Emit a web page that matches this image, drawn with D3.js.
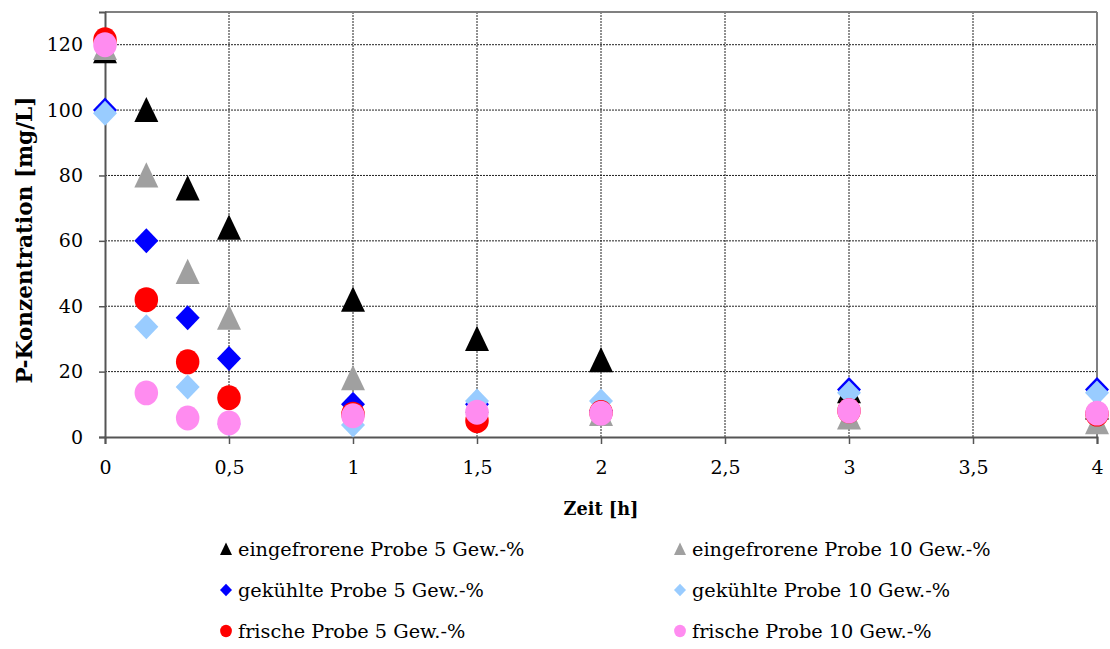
<!DOCTYPE html>
<html>
<head>
<meta charset="utf-8">
<script src="https://cdn.jsdelivr.net/npm/d3@7"></script>
<style>
  html, body { margin: 0; padding: 0; background: #fff; }
  svg { display: block; }
  text { font-family: "DejaVu Serif", serif; fill: #000; }
</style>
</head>
<body>
<svg id="chart" width="1110" height="649"></svg>
<script>
// Sampling times in hours
const times = [0, 1/6, 1/3, 0.5, 1, 1.5, 2, 3, 4];

// P concentration in mg/L per sample type
const frozen5   = [118, 100, 76, 64, 42, 30, 23.5, 14, 9];
const frozen10  = [119, 80, 50.5, 36.5, 18, 11, 7, 6, 4.5];
const cooled5   = [100, 60, 36.5, 24, 10, 10, 8, 14.5, 14.5];
const cooled10  = [99, 33.7, 15.3, 4, 3.7, 11, 11, 13.5, 13.5];
const fresh5    = [121.5, 42, 23, 12, 7, 5, 7.5, 8, 7];
const fresh10   = [120, 13.5, 5.8, 4.3, 6.5, 7.6, 7.3, 8, 7.3];

const xTicks = [0, 0.5, 1, 1.5, 2, 2.5, 3, 3.5, 4];
const yTicks = [0, 20, 40, 60, 80, 100, 120];

const seriesNames = [
  "eingefrorene Probe 5 Gew.-%",
  "eingefrorene Probe 10 Gew.-%",
  "gekühlte Probe 5 Gew.-%",
  "gekühlte Probe 10 Gew.-%",
  "frische Probe 5 Gew.-%",
  "frische Probe 10 Gew.-%"
];

const series = [
  { name: seriesNames[0], values: frozen5,  shape: "triangle", color: "#000000" },
  { name: seriesNames[1], values: frozen10, shape: "triangle", color: "#a0a0a0" },
  { name: seriesNames[2], values: cooled5,  shape: "diamond",  color: "#0000ff" },
  { name: seriesNames[3], values: cooled10, shape: "diamond",  color: "#99ccff" },
  { name: seriesNames[4], values: fresh5,   shape: "circle",   color: "#ff0000" },
  { name: seriesNames[5], values: fresh10,  shape: "circle",   color: "#ff8cf0" }
];

const svg = d3.select("#chart");
const margin = { left: 105, top: 12, right: 1097, bottom: 437 };

const x = d3.scaleLinear().domain([0, 4]).range([margin.left, margin.right]);
const y = d3.scaleLinear().domain([0, 130]).range([margin.bottom, margin.top]);

// Grid lines
const grid = svg.append("g");
grid.selectAll("line.h").data(yTicks.filter(d => d > 0)).join("line")
  .attr("x1", margin.left).attr("x2", margin.right)
  .attr("y1", d => y(d)).attr("y2", d => y(d))
  .attr("stroke", "#222").attr("stroke-width", 1).attr("stroke-dasharray", "2,1");
grid.selectAll("line.v").data(xTicks.filter(d => d > 0 && d < 4)).join("line")
  .attr("x1", d => x(d)).attr("x2", d => x(d))
  .attr("y1", margin.top).attr("y2", margin.bottom)
  .attr("stroke", "#222").attr("stroke-width", 1).attr("stroke-dasharray", "2,1");

// Plot frame (top and right)
svg.append("line").attr("x1", margin.left).attr("x2", margin.right)
  .attr("y1", margin.top).attr("y2", margin.top)
  .attr("stroke", "#808080").attr("stroke-width", 2);
svg.append("line").attr("x1", margin.right).attr("x2", margin.right)
  .attr("y1", margin.top).attr("y2", margin.bottom)
  .attr("stroke", "#808080").attr("stroke-width", 2);

// Axes
const fmt = d3.formatLocale({ decimal: ",", thousands: ".", grouping: [3], currency: ["", "€"] }).format("~g");

const xAxis = svg.append("g").attr("transform", `translate(0,${margin.bottom})`)
  .call(d3.axisBottom(x).tickValues(xTicks).tickFormat(fmt).tickSize(7).tickPadding(17));
const yAxis = svg.append("g").attr("transform", `translate(${margin.left},0)`)
  .call(d3.axisLeft(y).tickValues(yTicks).tickSize(6).tickPadding(16));

[xAxis, yAxis].forEach(a => {
  a.select(".domain").attr("stroke", "#555").attr("stroke-width", 2);
  a.selectAll(".tick line").attr("stroke", "#555").attr("stroke-width", 1.5);
  a.selectAll(".tick text").attr("font-size", 19)
    .attr("font-family", "'DejaVu Serif', serif");
});

// Size a title so that it spans the given length
function fitTitle(sel, base, length) {
  const w = sel.node().getComputedTextLength();
  sel.attr("font-size", base * length / w);
}

// Axis titles
const xTitle = svg.append("text").attr("x", x(2)).attr("y", 515)
  .attr("text-anchor", "middle").attr("font-size", 18).attr("font-weight", "bold")
  .text("Zeit [h]");
fitTitle(xTitle, 18, 75);
const yTitle = svg.append("text")
  .attr("transform", "translate(32,240) rotate(-90)")
  .attr("text-anchor", "middle").attr("font-size", 18).attr("font-weight", "bold")
  .text("P-Konzentration [mg/L]");
fitTitle(yTitle, 18, 287);

// Marker shapes
function markerPath(shape, s) {
  if (shape === "triangle") return `M0,${-s * 0.55}L${s * 0.5},${s * 0.5}L${-s * 0.5},${s * 0.5}Z`;
  if (shape === "diamond") return `M0,${-s * 0.52}L${s * 0.5},0L0,${s * 0.52}L${-s * 0.5},0Z`;
  return null;
}
function drawMarker(g, shape, color, cx, cy, s) {
  if (shape === "circle") {
    g.append("ellipse").attr("cx", cx).attr("cy", cy)
      .attr("rx", s * 0.49).attr("ry", s * 0.52).attr("fill", color);
  } else {
    g.append("path").attr("transform", `translate(${cx},${cy})`)
      .attr("d", markerPath(shape, s)).attr("fill", color);
  }
}

// Data points, in series order
const pts = svg.append("g");
series.forEach(s => {
  const g = pts.append("g");
  s.values.forEach((v, i) => drawMarker(g, s.shape, s.color, x(times[i]), y(v), 24));
});

// Legend
const legend = svg.append("g");
const legendCols = [226, 680];
const legendRows = [549, 590, 631];
series.forEach((s, i) => {
  const cx = legendCols[i % 2];
  const cy = legendRows[Math.floor(i / 2)];
  drawMarker(legend, s.shape, s.color, cx, cy, 12);
  legend.append("text").attr("x", cx + 12).attr("y", cy + 7)
    .attr("font-size", 19.3).text(s.name);
});
</script>
</body>
</html>
